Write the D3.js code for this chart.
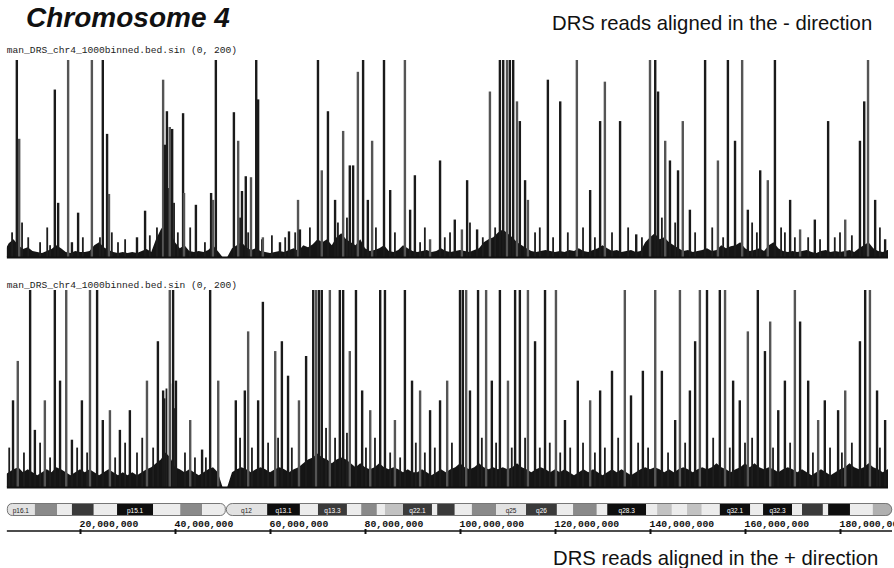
<!DOCTYPE html>
<html><head><meta charset="utf-8">
<script src="https://cdn.jsdelivr.net/npm/d3@7"></script>
<style>body{margin:0;background:#fff}svg{display:block}</style>
</head><body>
<svg id="c" width="894" height="568"></svg>
<script>
// ---------------- DATA ----------------
const title = "Chromosome 4";
const minusTitle = "DRS reads aligned in the - direction";
const plusTitle = "DRS reads aligned in the + direction";
const trackLabel = "man_DRS_chr4_1000binned.bed.sin (0, 200)";
const yMax = 200;
const tickMb = [20, 40, 60, 80, 100, 120, 140, 160, 180];
const chromEndMb = 191;
const centromereMb = 50.7;
const viewStartMb = 4.6;

// background read level, one value per Mb starting at 4 Mb
const bgStartMb = 4;
const minusBg = [5,14,18,12,8,10,6,
 5,4,6,8,12,9,5,4,6,5,
 5,6,12,15,10,7,5,4,5,4,
 5,4,6,8,5,18,28,35,25,15,
 9,12,6,5,6,5,7,12,6,0,
 0,
 9,12,15,10,7,9,6,5,4,
 5,6,5,7,9,6,12,10,13,18,
 15,18,12,20,24,18,15,12,18,9,
 6,7,9,12,6,5,7,12,9,6,
 5,6,7,5,6,9,6,5,6,7,
 6,5,7,9,15,18,20,25,28,24,
 20,15,12,9,6,5,6,7,6,5,
 6,5,7,6,9,6,5,7,9,12,
 9,6,7,5,6,7,5,6,15,20,
 24,18,20,15,12,9,6,7,5,6,
 7,9,6,7,12,9,11,12,15,9,
 6,7,9,6,12,15,9,6,5,6,
 5,6,7,5,4,6,7,5,6,5,
 6,7,5,9,12,15,9,6,5,7];
const plusBg = [12,15,18,20,15,18,15,
 12,15,18,15,20,18,15,12,15,18,
 15,18,15,12,15,18,15,12,15,12,
 15,12,15,18,20,24,28,35,30,20,
 18,15,18,15,12,15,18,20,15,0,
 0,
 15,18,20,18,15,18,20,18,15,
 18,20,18,15,18,20,24,28,30,34,
 30,28,24,28,30,28,24,20,24,20,
 18,20,24,20,18,20,18,15,18,15,
 15,18,15,12,15,18,15,18,20,24,
 20,18,20,24,20,18,20,18,20,18,
 20,24,20,18,15,18,20,18,15,18,
 15,18,15,12,15,18,15,18,15,12,
 15,18,15,18,15,12,15,18,20,18,
 20,18,15,18,15,18,20,18,15,18,
 20,18,20,24,20,18,15,18,20,24,
 20,24,20,18,20,18,15,18,20,18,
 15,18,15,12,15,18,15,12,15,18,
 20,24,20,18,20,24,20,18,15,18];

// small peaks in the background: [position Mb, reads]
const minusSmall = [[5.7,25],[7.8,35],[9.1,20],[11.6,15],[13.1,30],[13.7,12],[20.6,20],[24.2,20],[26.7,25],[28.0,15],[29.5,18],[34.7,22],[36.2,30],[37.6,70],[38.0,75],[38.6,70],[39.2,60],[39.8,55],[40.6,25],[43.2,30],[46.3,15],[53.7,40],[55.4,25],[58.3,18],[60.4,22],[63.2,20],[65.3,25],[68.4,30],[74.3,35],[76.2,40],[82.3,30],[86.3,25],[91.6,15],[92.6,30],[96.8,20],[97.9,25],[102.1,35],[104.8,20],[107.4,30],[115.8,25],[116.8,30],[119.6,20],[122.7,25],[125.9,30],[128.4,20],[132.0,25],[135.4,30],[138.3,20],[142.5,40],[145.3,35],[149.5,25],[153.1,30],[155.4,20],[161.5,35],[162.5,25],[167.6,30],[168.4,25],[170.5,20],[173.3,20],[175.8,18],[178.9,20],[180.0,25],[182.5,22],[188.4,30]];
const plusSmall = [[5.1,40],[8.2,35],[11.6,45],[13.7,30],[19.4,40],[21.5,35],[27.4,30],[29.5,45],[32.0,35],[33.1,50],[35.4,40],[37.8,90],[38.2,100],[39.0,105],[40.0,80],[42.1,35],[44.2,30],[46.5,30],[53.7,50],[56.2,40],[59.6,45],[61.7,50],[64.6,40],[71.8,60],[73.7,50],[76.2,55],[80.2,40],[82.1,50],[85.3,35],[87.4,30],[90.7,45],[92.6,35],[94.7,40],[98.3,45],[104.6,50],[107.6,45],[110.9,40],[113.7,50],[116.8,40],[118.9,45],[121.1,35],[123.2,40],[125.9,45],[128.4,35],[130.5,40],[133.3,50],[137.5,45],[139.6,40],[143.8,35],[147.4,45],[153.3,50],[156.8,40],[160.0,45],[161.5,50],[165.9,40],[169.5,45],[174.3,35],[177.9,40],[180.4,35],[182.5,45],[188.4,40]];

// tall peaks: [position Mb, reads]
const minusPeaks = [[6.7,200],[7.2,120],[14.7,170],[15.4,55],[17.5,200],[18.3,15],[19.6,45],[22.5,200],[24.8,200],[25.7,125],[26.1,64],[32.0,20],[33.7,47],[37.5,180],[37.9,114],[38.3,148],[38.9,132],[39.4,130],[41.7,146],[41.9,65],[44.4,53],[47.6,65],[48.0,58],[48.6,200],[52.4,147],[53.3,118],[54.1,67],[54.9,82],[56.0,81],[57.1,200],[57.5,160],[58.5,20],[62.1,15],[64.0,26],[65.9,58],
[66.3,28],[70.1,200],[70.9,88],[72.2,148],[73.7,58],[75.4,128],[76.8,93],[77.5,93],[78.5,188],[79.6,200],[80.6,58],[81.5,118],[84.0,200],[85.3,68],[88.4,200],[89.5,48],[90.5,83],[93.7,18],[95.8,98],[98.9,38],[100.4,28],[101.5,78],[103.6,28],[106.3,168],[108.4,200],[109.1,200],[109.9,200],[110.5,200],[111.2,200],[112.0,158],[112.6,138],[113.7,78],[114.3,58],[118.5,180],[121.1,158],[124.6,200],[127.4,68],[129.5,138],[130.5,178],[133.7,138],[137.1,23],[140.0,200],[141.1,200],[141.7,168],[143.2,118],[144.2,98],[145.9,88],[146.9,138],[148.4,48],[151.6,200],[154.3,98],[156.4,200],[157.9,118],[159.4,200],[160.6,48],[163.2,88],[164.8,78],[166.3,200],[169.5,58],[171.6,28],[174.7,38],[177.5,138],[181.1,38],[184.2,118],[185.1,158],[185.9,200],[187.4,58],[189.5,18]];

const plusPeaks = [[5.9,88],[6.9,128],[9.5,200],[10.5,58],[12.6,88],[14.7,200],[15.8,108],[17.1,200],[18.3,48],[20.4,88],[22.1,200],[23.6,200],[24.8,68],[26.3,78],[28.4,58],[30.5,78],[34.1,108],[36.4,148],[37.5,98],[38.9,200],[39.6,200],[40.2,108],[43.2,68],[45.7,38],[47.4,200],[49.1,108],[52.8,88],[54.7,98],[55.4,158],[57.5,88],[58.5,188],[61.1,138],[62.5,148],[63.8,113],[66.1,88],[67.6,133],[69.1,200],[69.7,200],[70.3,200],[70.9,200],[72.6,200],[74.7,200],[75.4,200],[76.8,138],[78.1,200],[79.4,98],[81.1,78],[83.2,200],[84.2,200],[86.3,68],[88.4,200],[89.9,108],[91.6,98],[93.7,78],[95.8,88],[97.3,108],[100.0,200],[100.6,200],[101.3,200],[102.1,98],[103.8,200],[105.5,200],[106.7,108],[108.4,200],[110.1,108],[111.6,200],[112.6,200],[114.3,200],[115.8,148],[117.9,200],[120.2,200],[122.1,68],[124.8,108],[127.4,88],[129.5,98],[132.0,118],[134.7,200],[136.0,93],[138.5,118],[141.1,200],[142.5,118],[145.3,68],[146.3,200],[148.4,98],[149.5,148],[150.5,200],[152.0,200],[154.7,200],[155.8,200],[157.5,108],[158.9,88],[160.6,158],[162.7,200],[164.2,138],[165.3,168],[167.0,78],[168.4,108],[170.5,200],[171.6,168],[173.3,108],[175.4,68],[176.8,88],[179.6,78],[181.1,98],[184.2,148],[185.3,200],[186.3,200],[187.8,98],[189.5,68]];

// cytoband ideogram: [start Mb, end Mb, stain, label]
const bands = [[4.6,10.5,'gnegL','p16.1'],[10.5,15.2,'gpos50',''],[15.2,18.3,'gneg',''],[18.3,22.9,'gpos75',''],[22.9,27.8,'gneg',''],[27.8,35.4,'gpos100','p15.1'],[35.4,41.1,'gneg',''],[41.1,45.7,'gpos50',''],[45.7,50.7,'gneg',''],
[50.7,59.4,'gnegL','q12'],[59.4,66.3,'gpos100','q13.1'],[66.3,70.1,'gneg',''],[70.1,76.2,'gpos75','q13.3'],[76.2,79.2,'gneg',''],[79.2,82.5,'gpos50',''],[82.5,84.2,'gneg',''],[84.2,88.0,'gpos25',''],[88.0,94.1,'gpos75','q22.1'],[94.1,95.2,'gneg',''],[95.2,98.9,'gpos75',''],[98.9,102.5,'gneg',''],[102.5,107.6,'gpos50',''],[107.6,113.9,'gnegL','q25'],[113.9,120.4,'gpos75','q26'],[120.4,123.8,'gneg',''],[123.8,128.8,'gpos50',''],[128.8,131.0,'gneg',''],[131.0,139.2,'gpos100','q28.3'],[139.2,141.5,'gneg',''],[141.5,144.6,'gpos25',''],[144.6,147.8,'gneg',''],[147.8,150.9,'gpos25',''],[150.9,154.7,'gneg',''],[154.7,161.1,'gpos100','q32.1'],[161.1,163.8,'gneg',''],[163.8,169.9,'gpos100','q32.3'],[169.9,172.0,'gneg',''],[172.0,176.4,'gpos75',''],[176.4,177.5,'gneg',''],[177.5,182.1,'gpos100',''],[182.1,186.9,'gneg',''],[186.9,191.0,'gpos33','']];

// ---------------- DRAW ----------------
const stainColor = {gneg:'#ececec', gnegL:'#e2e2e2', gpos25:'#c2c2c2', gpos33:'#b0b0b0', gpos50:'#8a8a8a', gpos75:'#3a3a3a', gpos100:'#0e0e0e'};
const svg = d3.select('#c');
const x = d3.scaleLinear().domain([0, chromEndMb]).range([-15, 892.25]);
const defs = svg.append('defs');
defs.append('clipPath').attr('id','trk').append('rect')
  .attr('x', x(viewStartMb)).attr('y', 0).attr('width', 888 - x(viewStartMb)).attr('height', 568);

svg.append('text').attr('x', 26).attr('y', 27)
  .attr('font-family','Liberation Sans, Arial, sans-serif').attr('font-size', 28)
  .attr('font-weight','bold').attr('font-style','italic').attr('fill','#111').text(title);
svg.append('text').attr('x', 552).attr('y', 30)
  .attr('font-family','Liberation Sans, Arial, sans-serif').attr('font-size', 20.3)
  .attr('fill','#111').text(minusTitle);
svg.append('text').attr('x', 553).attr('y', 565)
  .attr('font-family','Liberation Sans, Arial, sans-serif').attr('font-size', 20.3)
  .attr('fill','#111').text(plusTitle);

function track(bg, small, peaks, top, base, labelY) {
  const y = d3.scaleLinear().domain([0, yMax]).range([base, top]).clamp(true);
  const g = svg.append('g').attr('clip-path','url(#trk)');
  svg.append('text').attr('x', x(viewStartMb)).attr('y', labelY)
    .attr('font-family','Liberation Mono, DejaVu Sans Mono, monospace').attr('font-size', 9.6)
    .attr('fill','#222').text(trackLabel);
  const pts = bg.map((v,i)=>[bgStartMb+i, v]);
  pts.push([chromEndMb, bg[bg.length-1]]);
  g.append('path').datum(pts)
    .attr('d', d3.area().curve(d3.curveLinear).x(d=>x(d[0])).y0(base).y1(d=>y(d[1])))
    .attr('fill','#151515');
  g.selectAll('rect.sm').data(small).join('rect').attr('class','sm')
    .attr('x', d=>x(d[0]) - 0.9).attr('width', 1.8)
    .attr('y', d=>y(d[1])).attr('height', d=>base - y(d[1]))
    .attr('fill', '#1e1e1e');
  g.selectAll('rect.pk').data(peaks).join('rect').attr('class','pk')
    .attr('x', d=>x(d[0]) - 1.2).attr('width', 2.4)
    .attr('y', d=>y(d[1])).attr('height', d=>base - y(d[1]))
    .attr('fill', (d,i)=> i%3===1 ? '#555' : '#1a1a1a');
  svg.append('line').attr('x1', x(viewStartMb)).attr('x2', 888).attr('y1', base+0.5).attr('y2', base+0.5)
    .attr('stroke','#111').attr('stroke-width', 2);
}
track(minusBg, minusSmall, minusPeaks, 60, 257, 53);
track(plusBg, plusSmall, plusPeaks, 290, 487, 288);

// ideogram
const iy = 503, ih = 13;
defs.append('clipPath').attr('id','chr').call(cp=>{
  cp.append('rect').attr('x', x(viewStartMb)).attr('y', iy).attr('width', x(centromereMb)-x(viewStartMb)).attr('height', ih).attr('rx', 5);
  cp.append('rect').attr('x', x(centromereMb)).attr('y', iy).attr('width', x(chromEndMb)-x(centromereMb)).attr('height', ih).attr('rx', 6.5);
});
const ig = svg.append('g').attr('clip-path','url(#chr)');
ig.selectAll('rect').data(bands).join('rect')
  .attr('x', d=>x(d[0])).attr('width', d=>x(d[1])-x(d[0]))
  .attr('y', iy).attr('height', ih).attr('fill', d=>stainColor[d[2]]);
svg.append('rect').attr('x', x(viewStartMb)+0.5).attr('y', iy+0.5).attr('width', x(centromereMb)-x(viewStartMb)-1).attr('height', ih-1).attr('rx', 5)
  .attr('fill','none').attr('stroke','#777').attr('stroke-width',1);
svg.append('rect').attr('x', x(centromereMb)+0.5).attr('y', iy+0.5).attr('width', x(chromEndMb)-x(centromereMb)-1).attr('height', ih-1).attr('rx', 6)
  .attr('fill','none').attr('stroke','#777').attr('stroke-width',1);
svg.selectAll('text.bl').data(bands.filter(d=>d[3])).join('text').attr('class','bl')
  .attr('x', d=>(x(d[0])+x(d[1]))/2).attr('y', iy+9.5).attr('text-anchor','middle')
  .attr('font-family','Liberation Sans, Arial, sans-serif').attr('font-size', 6.5)
  .attr('fill', d=> (d[2]==='gpos100'||d[2]==='gpos75') ? '#fff' : '#222').text(d=>d[3]);

// coordinate axis
const axisY = 531;
const ax = svg.append('g').attr('transform',`translate(0,${axisY})`)
  .call(d3.axisBottom(x).tickValues(tickMb).tickSize(3).tickSizeOuter(0)
    .tickFormat(d=>d3.format(',')(d*1e6)));
ax.select('.domain').remove();
ax.selectAll('.tick line').attr('y1', -2).attr('y2', 3).attr('stroke','#111').attr('stroke-width',2);
ax.selectAll('.tick text').attr('text-anchor','start').attr('x', -1).attr('y', -4).attr('dy', 0)
  .attr('font-family','Liberation Mono, DejaVu Sans Mono, monospace').attr('font-size', 9.8)
  .attr('font-weight','bold').attr('fill','#111');
svg.append('line').attr('x1', x(viewStartMb)).attr('x2', 892).attr('y1', axisY).attr('y2', axisY)
  .attr('stroke','#111').attr('stroke-width', 1.6);
</script>
</body></html>
